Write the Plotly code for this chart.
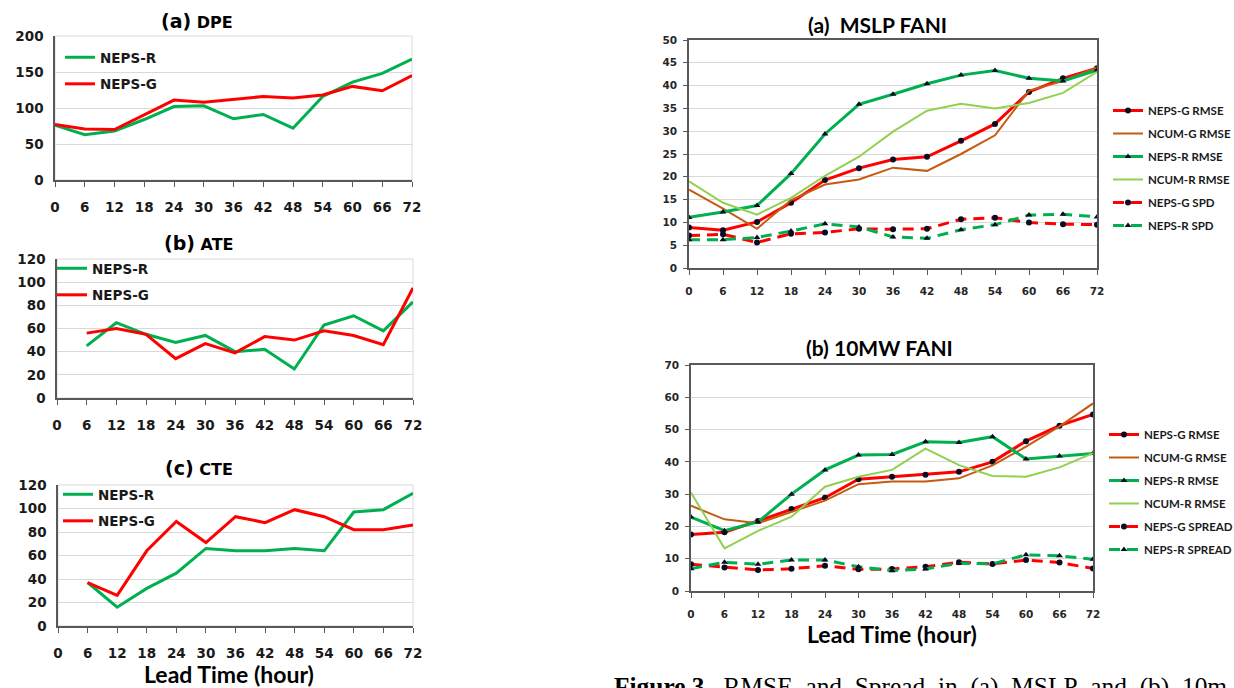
import plotly.graph_objects as go

W, H = 1234, 688

def px(x):
    return x / W

def py(y):
    return 1 - y / H

# ---------------- data ----------------
hours = [0, 6, 12, 18, 24, 30, 36, 42, 48, 54, 60, 66, 72]

dpe_neps_r = [76, 63, 68, 84, 102, 103, 85, 91, 72, 116, 136, 148, 168]
dpe_neps_g = [77, 71, 70, 90, 111, 108, 112, 116, 114, 118, 130, 124, 145]

ate_neps_r = [None, 45, 65, 55, 48, 54, 40, 42, 25, 63, 71, 58, 83]
ate_neps_g = [None, 56, 60, 55, 34, 47, 39, 53, 50, 58, 54, 46, 95]

cte_neps_r = [None, 37, 16, 32, 45, 66, 64, 64, 66, 64, 97, 99, 113]
cte_neps_g = [None, 37, 26, 64, 89, 71, 93, 88, 99, 93, 82, 82, 86]

mslp_neps_g_rmse = [8.9, 8.3, 10.1, 14.3, 19.3, 21.9, 23.8, 24.4, 27.9, 31.6, 38.6, 41.6, 43.8]
mslp_ncum_g_rmse = [17.2, 13.0, 8.6, 14.9, 18.3, 19.4, 22.0, 21.3, 25.0, 29.1, 38.9, 41.0, 44.0]
mslp_neps_r_rmse = [11.1, 12.3, 13.7, 20.7, 29.4, 35.9, 38.1, 40.4, 42.3, 43.3, 41.6, 41.0, 43.4]
mslp_ncum_r_rmse = [19.0, 14.3, 11.7, 15.4, 20.2, 24.4, 29.9, 34.5, 36.0, 35.0, 36.2, 38.4, 43.0]
mslp_neps_g_spd = [7.1, 7.4, 5.6, 7.5, 7.8, 8.6, 8.5, 8.6, 10.7, 11.0, 10.0, 9.6, 9.5]
mslp_neps_r_spd = [6.2, 6.2, 6.7, 8.1, 9.7, 9.0, 6.8, 6.5, 8.4, 9.5, 11.6, 11.8, 11.2]

wind_neps_g_rmse = [17.5, 18.2, 21.7, 25.4, 28.9, 34.6, 35.4, 36.0, 36.9, 40.0, 46.4, 51.2, 54.7]
wind_ncum_g_rmse = [26.4, 22.2, 21.0, 24.6, 28.0, 33.1, 33.9, 33.9, 34.9, 38.9, 44.7, 51.0, 58.1]
wind_neps_r_rmse = [22.9, 18.7, 21.4, 30.0, 37.5, 42.1, 42.3, 46.2, 46.0, 47.8, 40.9, 41.8, 42.6]
wind_ncum_r_rmse = [30.5, 13.2, 18.6, 23.0, 32.3, 35.4, 37.5, 44.1, 39.0, 35.6, 35.4, 38.3, 42.7]
wind_neps_g_spread = [8.3, 7.3, 6.5, 6.9, 7.8, 6.7, 6.8, 7.5, 8.9, 8.4, 9.6, 8.8, 7.0]
wind_neps_r_spread = [6.9, 8.9, 8.3, 9.6, 9.6, 7.5, 6.3, 6.8, 8.6, 8.4, 11.2, 10.9, 9.8]

# ---------------- styles ----------------
RED = "#FF0000"
GREEN = "#00B050"
LGREEN = "#92D050"
BROWN = "#C55A11"
AXIS = "#595959"
GRID = "#D9D9D9"
MK = "#0B0B22"
LEFT_FONT = "DejaVu Sans"
RIGHT_FONT = "Lato"

fig = go.Figure()

def left_trace(y, name, color, ax, leg):
    fig.add_trace(go.Scatter(
        x=hours, y=y, name=name, mode="lines",
        line=dict(color=color, width=3),
        xaxis="x" + ax, yaxis="y" + ax, legend=leg,
        legendgroup=name + leg, connectgaps=False,
    ))

left_trace(dpe_neps_r, "NEPS-R", GREEN, "", "legend")
left_trace(dpe_neps_g, "NEPS-G", RED, "", "legend")
left_trace(ate_neps_r, "NEPS-R", GREEN, "2", "legend2")
left_trace(ate_neps_g, "NEPS-G", RED, "2", "legend2")
left_trace(cte_neps_r, "NEPS-R", GREEN, "3", "legend3")
left_trace(cte_neps_g, "NEPS-G", RED, "3", "legend3")

def right_trace(y, name, color, width, dash, symbol, ax, leg):
    mode = "lines+markers" if symbol else "lines"
    fig.add_trace(go.Scatter(
        x=hours, y=y, name=name, mode=mode,
        line=dict(color=color, width=width, dash=dash),
        marker=dict(symbol=symbol or "circle", size=6, color=MK),
        xaxis="x" + ax, yaxis="y" + ax, legend=leg,
        legendgroup=name + leg,
    ))

DASH = "11px,7px"
right_trace(mslp_neps_g_rmse, "NEPS-G RMSE", RED, 3, "solid", "circle", "4", "legend4")
right_trace(mslp_ncum_g_rmse, "NCUM-G RMSE", BROWN, 2, "solid", None, "4", "legend4")
right_trace(mslp_neps_r_rmse, "NEPS-R RMSE", GREEN, 3, "solid", "triangle-up", "4", "legend4")
right_trace(mslp_ncum_r_rmse, "NCUM-R RMSE", LGREEN, 2, "solid", None, "4", "legend4")
right_trace(mslp_neps_g_spd, "NEPS-G SPD", RED, 3, DASH, "circle", "4", "legend4")
right_trace(mslp_neps_r_spd, "NEPS-R SPD", GREEN, 3, DASH, "triangle-up", "4", "legend4")

right_trace(wind_neps_g_rmse, "NEPS-G RMSE", RED, 3, "solid", "circle", "5", "legend5")
right_trace(wind_ncum_g_rmse, "NCUM-G RMSE", BROWN, 2, "solid", None, "5", "legend5")
right_trace(wind_neps_r_rmse, "NEPS-R RMSE", GREEN, 3, "solid", "triangle-up", "5", "legend5")
right_trace(wind_ncum_r_rmse, "NCUM-R RMSE", LGREEN, 2, "solid", None, "5", "legend5")
right_trace(wind_neps_g_spread, "NEPS-G SPREAD", RED, 3, DASH, "circle", "5", "legend5")
right_trace(wind_neps_r_spread, "NEPS-R SPREAD", GREEN, 3, DASH, "triangle-up", "5", "legend5")

# ---------------- axes ----------------
def xaxis_left(x0, x1, anchor):
    return dict(domain=[px(x0), px(x1)], anchor=anchor, range=[0, 72],
                tick0=0, dtick=6, ticks="outside", ticklen=5, tickcolor=AXIS,
                showline=True, linecolor=AXIS, linewidth=1.5, showgrid=False,
                zeroline=False, ticklabelstandoff=9,
                tickfont=dict(family=LEFT_FONT, size=13.5, color="#1a1a1a", weight="bold"))

def yaxis_left(y0, y1, anchor, top, dtick):
    return dict(domain=[py(y1), py(y0)], anchor=anchor, range=[0, top], dtick=dtick,
                showline=True, linecolor=AXIS, linewidth=1.5, ticks="",
                showgrid=True, gridcolor=GRID, gridwidth=1, zeroline=False,
                ticklabelstandoff=7,
                tickfont=dict(family=LEFT_FONT, size=13.5, color="#1a1a1a", weight="bold"))

def xaxis_right(x0, x1, anchor):
    return dict(domain=[px(x0), px(x1)], anchor=anchor, range=[0, 72],
                tick0=0, dtick=6, ticks="outside", ticklen=5, tickcolor=AXIS,
                showline=True, mirror=True, linecolor=AXIS, linewidth=1.5,
                showgrid=False, zeroline=False, ticklabelstandoff=8,
                tickfont=dict(family=LEFT_FONT, size=10.5, color="#262626", weight="bold"))

def yaxis_right(y0, y1, anchor, top, dtick):
    return dict(domain=[py(y1), py(y0)], anchor=anchor, range=[0, top], dtick=dtick,
                showline=True, mirror=True, linecolor=AXIS, linewidth=1.5,
                ticks="outside", ticklen=4, tickcolor=AXIS,
                showgrid=True, gridcolor=GRID, gridwidth=1, zeroline=False,
                ticklabelstandoff=4,
                tickfont=dict(family=LEFT_FONT, size=10.5, color="#262626", weight="bold"))

layout = dict(
    width=W, height=H, margin=dict(l=0, r=0, t=0, b=0, autoexpand=False),
    paper_bgcolor="white", plot_bgcolor="white", showlegend=True,
    xaxis=xaxis_left(55, 412, "y"), yaxis=yaxis_left(36, 180, "x", 200, 50),
    xaxis2=xaxis_left(57, 413, "y2"), yaxis2=yaxis_left(259, 398, "x2", 120, 20),
    xaxis3=xaxis_left(58, 413, "y3"), yaxis3=yaxis_left(485, 626, "x3", 120, 20),
    xaxis4=xaxis_right(689, 1097, "y4"), yaxis4=yaxis_right(40, 268, "x4", 50, 5),
    xaxis5=xaxis_right(691, 1093, "y5"), yaxis5=yaxis_right(365, 591, "x5", 70, 10),
)

def left_legend(x, ytop):
    return dict(x=px(x), y=py(ytop), xanchor="left", yanchor="top",
                bgcolor="rgba(0,0,0,0)", borderwidth=0, tracegroupgap=6,
                traceorder="grouped", itemwidth=30,
                font=dict(family=LEFT_FONT, size=13.5, color="#1a1a1a", weight="bold"))

def right_legend(x, ytop):
    return dict(x=px(x), y=py(ytop), xanchor="left", yanchor="top",
                bgcolor="rgba(0,0,0,0)", borderwidth=0, tracegroupgap=4,
                traceorder="grouped", itemwidth=30,
                font=dict(family=RIGHT_FONT, size=11.5, color="#1a1a1a", weight="bold"))

layout["legend"] = left_legend(60, 42)
layout["legend2"] = left_legend(52, 253)
layout["legend3"] = left_legend(58, 479)
layout["legend4"] = right_legend(1108, 96)
layout["legend5"] = right_legend(1104, 420)

fig.update_layout(**layout)

# light frame on the left panels (top and right edges)
for ax in ["", "2", "3"]:
    fig.add_shape(type="rect", xref="x" + ax + " domain", yref="y" + ax + " domain",
                  x0=0, x1=1, y0=0, y1=1, line=dict(color=GRID, width=1), layer="below")

# ---------------- text ----------------
def ann(text, x, y, size, family, **kw):
    fig.add_annotation(text=text, x=px(x), y=py(y), xref="paper", yref="paper",
                       showarrow=False, xanchor=kw.get("xanchor", "center"),
                       yanchor=kw.get("yanchor", "middle"),
                       font=dict(family=family, size=size, color=kw.get("color", "black"),
                                 weight=kw.get("weight", "bold")))

def left_title(tag, name):
    return ("<span style='font-size:19px'>" + tag + "</span> "
            "<span style='font-size:16px'>" + name + "</span>")

ann(left_title("(a)", "DPE"), 197, 21, 16, LEFT_FONT)
ann(left_title("(b)", "ATE"), 199, 243, 16, LEFT_FONT)
ann(left_title("(c)", "CTE"), 199, 468, 16, LEFT_FONT)
ann("Lead Time (hour)", 229, 674, 23, RIGHT_FONT)

ann("(a)&nbsp;&nbsp;MSLP FANI", 877, 25, 21, RIGHT_FONT)
ann("(b) 10MW FANI", 879, 347, 21, RIGHT_FONT)
ann("Lead Time (hour)", 892, 634, 23, RIGHT_FONT)

ann("<b>Figure&nbsp;3.</b>&nbsp;&nbsp;RMSE&nbsp;&nbsp;and&nbsp;&nbsp;Spread&nbsp;&nbsp;in&nbsp;&nbsp;(a)&nbsp;&nbsp;MSLP&nbsp;&nbsp;and&nbsp;&nbsp;(b)&nbsp;&nbsp;10m",
    612, 686, 25.4, "Liberation Serif", xanchor="left", weight="normal")

fig.write_html(
    "out.html",
    config={"displayModeBar": False},
    post_script="document.body.style.margin='0';document.body.style.overflow='hidden';",
)
